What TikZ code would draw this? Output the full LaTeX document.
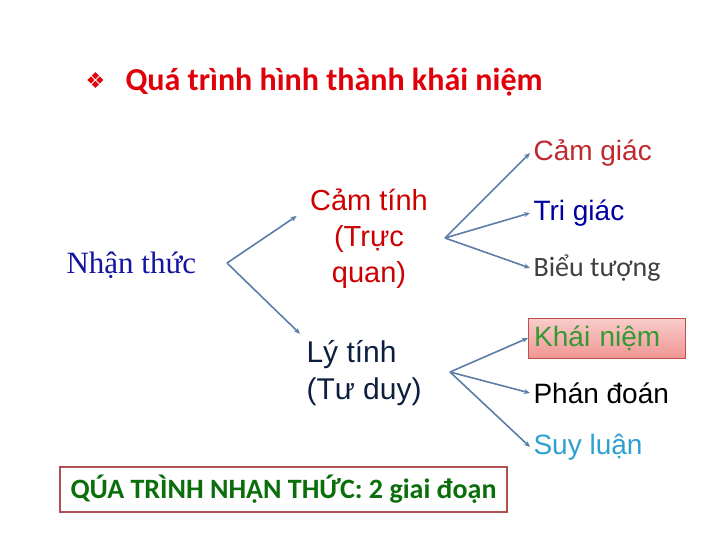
\documentclass[tikz,border=0pt]{standalone}
\usepackage{fontspec}
\setmainfont{Liberation Sans}
\newfontfamily\calibri{Carlito}
\newfontfamily\serifvn{Liberation Serif}
\newfontfamily\dejavu{DejaVu Sans}
\usetikzlibrary{arrows.meta}

\definecolor{titelrot}{HTML}{E0000A}
\definecolor{pfeilblau}{HTML}{5B7DA8}
\definecolor{boxrand}{HTML}{B05050}
\definecolor{boxgruen}{HTML}{0A6E0A}

\tikzset{
	pfeil/.style={draw=pfeilblau, line width=1.6pt, -{Stealth[length=6pt,width=5pt]}},
	stufe/.style={anchor=west, font=\fontsize{28}{34}\selectfont},
}

\begin{document}
\begin{tikzpicture}[x=1pt, y=-1pt]
	\useasboundingbox (0,0) rectangle (720,540);
	
	%Titel
	\node[anchor=west, text=titelrot, font=\dejavu\fontsize{22}{22}\selectfont] (bullet) at (82,81) {❖};
	\node[anchor=west, text=titelrot, font=\calibri\bfseries\fontsize{32}{32}\selectfont] (titel) at (122,82) {Quá trình hình thành khái niệm};
	
	%linke Spalte
	\node[anchor=west, text={rgb,255:red,20;green,20;blue,160}, font=\serifvn\fontsize{31}{34}\selectfont] (nt) at (63,265) {Nhận thức};
	\node[align=center, text={rgb,255:red,204;green,0;blue,0}, font=\fontsize{29}{36}\selectfont] (ct) at (369,239) {Cảm tính\\(Trực\\quan)};
	\node[align=left, anchor=west, text={rgb,255:red,12;green,31;blue,63}, font=\fontsize{30}{37}\selectfont] (lt) at (303,373) {Lý tính\\(Tư duy)};
	
	%rechte Spalte
	\node[stufe, text={rgb,255:red,192;green,40;blue,45}] (cg) at (530,153) {Cảm giác};
	\node[stufe, text={rgb,255:red,0;green,0;blue,160}] (tg) at (530,213) {Tri giác};
	\node[stufe, text={rgb,255:red,64;green,64;blue,64}, font=\calibri\fontsize{28}{34}\selectfont] (bt) at (530,268) {Biểu tượng};
	\node[stufe, draw={rgb,255:red,192;green,80;blue,77}, top color={rgb,255:red,248;green,205;blue,203}, bottom color={rgb,255:red,240;green,150;blue,148}, text={rgb,255:red,51;green,153;blue,51}, minimum height=40pt, text width=145pt, inner xsep=6pt, align=left] (kn) at (528,338) {Khái niệm};
	\node[stufe] (pd) at (530,393) {Phán đoán};
	\node[stufe, text={rgb,255:red,46;green,160;blue,208}] (sl) at (530,447) {Suy luận};
	
	%Kasten unten
	\node[draw=boxrand, line width=2pt, minimum width=447pt, minimum height=45pt, text=boxgruen, font=\calibri\bfseries\fontsize{28}{28}\selectfont] (gd) at (283.5,489.5) {QÚA TRÌNH NHẬN THỨC: 2 giai đoạn};
	
	%Verzweigungen
	\coordinate (f0) at (227,263);
	\coordinate (f1) at (445,238);
	\coordinate (f2) at (450,372);
	
	\draw[pfeil] (f0) -- ([xshift=-10pt,yshift=23pt]ct.west);
	\draw[pfeil] (f0) -- ([xshift=-3pt,yshift=3pt]lt.north west);
	\foreach \z in {cg,tg,bt} {
		\draw[pfeil] (f1) -- (\z.west);
	}
	\foreach \z in {kn,pd,sl} {
		\draw[pfeil] (f2) -- (\z.west);
	}
\end{tikzpicture}
\end{document}
